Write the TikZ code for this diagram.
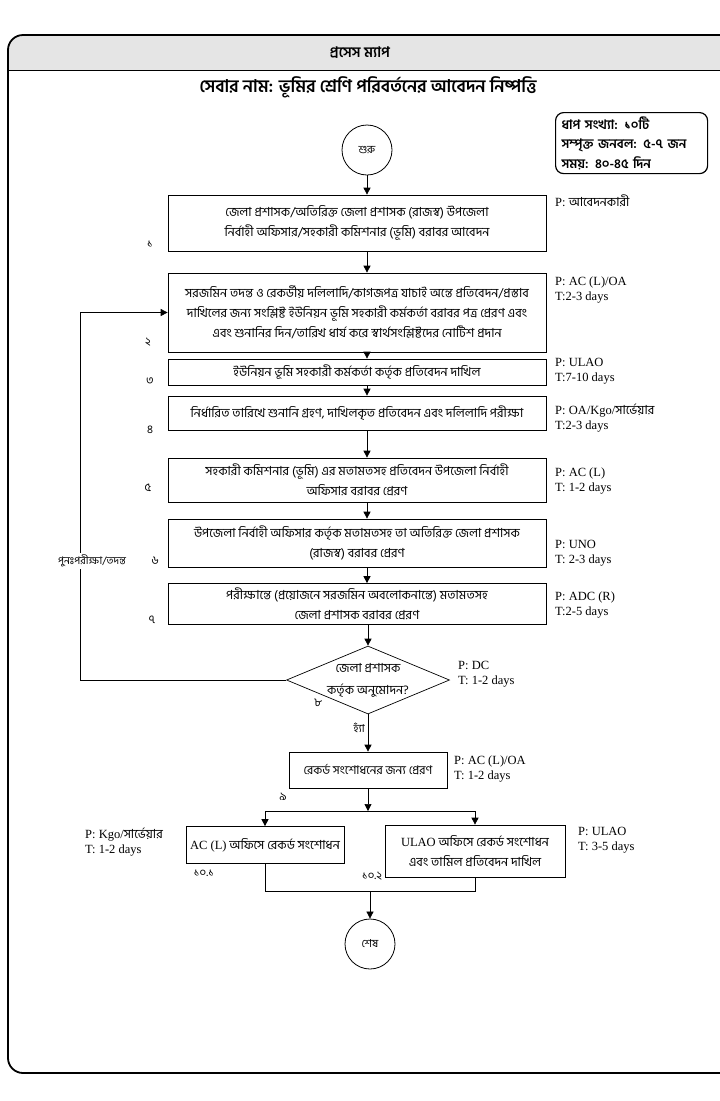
\documentclass[tikz,border=0pt]{standalone}
\usepackage{fontspec}
\setmainfont{Liberation Serif}
\newfontfamily\bn[Script=Bengali]{Hind Siliguri}
\usetikzlibrary{shapes.geometric,arrows.meta}
\begin{document}
\begin{tikzpicture}[x=1pt,y=-1pt,
  box/.style={draw, line width=0.7pt, align=center, inner sep=0pt, font=\bn\fontsize{12.5}{20}\selectfont},
  arr/.style={-{Triangle[length=7pt,width=7pt]}, line width=0.7pt},
  plab/.style={anchor=west, align=left, inner sep=0pt, font=\fontsize{12.5}{15}\selectfont},
  num/.style={font=\bn\fontsize{11.5}{12}\selectfont, inner sep=0pt},
  term/.style={circle, draw, line width=0.8pt, minimum size=50pt, inner sep=0pt, font=\bn\fontsize{11}{12}\selectfont}
]
\useasboundingbox (0,0) rectangle (720,1101);
% frame and header
\begin{scope}
  \clip[rounded corners=15pt] (8,35) rectangle (740,1073);
  \fill[gray!20] (8,35) rectangle (740,70);
\end{scope}
\draw[line width=1pt] (8,70) -- (740,70);
\draw[rounded corners=15pt, line width=1.8pt] (8,35) rectangle (740,1073);
\node[font=\bn\bfseries\fontsize{14.5}{16}\selectfont] (title) at (360,53) {প্রসেস ম্যাপ};
\node[font=\bn\bfseries\fontsize{17.5}{20}\selectfont] (sub) at (368,87) {সেবার নাম: ভূমির শ্রেণি পরিবর্তনের আবেদন নিষ্পত্তি};
\node[draw, rounded corners=8pt, line width=1.2pt, align=left, anchor=north west,
      font=\bn\bfseries\fontsize{13}{19.5}\selectfont, text width=140pt, inner xsep=6pt,
      minimum height=61pt] (info) at (555,112) {ধাপ সংখ্যা: ১০টি\\সম্পৃক্ত জনবল: ৫-৭ জন\\সময়: ৪০-৪৫ দিন};

% nodes
\node[term] (start) at (367,150) {শুরু};
\node[box, minimum width=378pt, minimum height=56pt] (b1) at (357,223) {জেলা প্রশাসক/অতিরিক্ত জেলা প্রশাসক (রাজস্ব) উপজেলা\\নির্বাহী অফিসার/সহকারী কমিশনার (ভূমি) বরাবর আবেদন};
\node[box, minimum width=378pt, minimum height=79pt] (b2) at (357,312.5) {সরজমিন তদন্ত ও রেকর্ডীয় দলিলাদি/কাগজপত্র যাচাই অন্তে প্রতিবেদন/প্রস্তাব\\দাখিলের জন্য সংশ্লিষ্ট ইউনিয়ন ভূমি সহকারী কর্মকর্তা বরাবর পত্র প্রেরণ এবং\\এবং শুনানির দিন/তারিখ ধার্য করে স্বার্থসংশ্লিষ্টদের নোটিশ প্রদান};
\node[box, minimum width=378pt, minimum height=26pt] (b3) at (357,372) {ইউনিয়ন ভূমি সহকারী কর্মকর্তা কর্তৃক প্রতিবেদন দাখিল};
\node[box, minimum width=378pt, minimum height=34pt] (b4) at (357,413) {নির্ধারিত তারিখে শুনানি গ্রহণ, দাখিলকৃত প্রতিবেদন এবং দলিলাদি পরীক্ষা};
\node[box, minimum width=378pt, minimum height=44pt] (b5) at (357,480) {সহকারী কমিশনার (ভূমি) এর মতামতসহ প্রতিবেদন উপজেলা নির্বাহী\\অফিসার বরাবর প্রেরণ};
\node[box, minimum width=378pt, minimum height=48pt] (b6) at (357,543) {উপজেলা নির্বাহী অফিসার কর্তৃক মতামতসহ তা অতিরিক্ত জেলা প্রশাসক\\(রাজস্ব) বরাবর প্রেরণ};
\node[box, minimum width=378pt, minimum height=41pt] (b7) at (357,604) {পরীক্ষান্তে (প্রয়োজনে সরজমিন অবলোকনান্তে) মতামতসহ\\জেলা প্রশাসক বরাবর প্রেরণ};
\node[diamond, draw, line width=0.7pt, minimum width=163pt, minimum height=68pt, inner sep=-30pt,
      align=center, font=\bn\fontsize{12.5}{22}\selectfont] (dia) at (368,680) {জেলা প্রশাসক\\কর্তৃক অনুমোদন?};
\node[box, minimum width=158pt, minimum height=36pt, font=\bn\fontsize{12}{20}\selectfont] (b9) at (368,770) {রেকর্ড সংশোধনের জন্য প্রেরণ};
\node[box, minimum width=158pt, minimum height=37pt] (b101) at (265,845) {{\rmfamily AC (L)} অফিসে রেকর্ড সংশোধন};
\node[box, minimum width=180pt, minimum height=52pt] (b102) at (475,851) {{\rmfamily ULAO} অফিসে রেকর্ড সংশোধন\\এবং তামিল প্রতিবেদন দাখিল};
\node[term] (end) at (370,944) {শেষ};

% connectors
\draw[arr] (start.south) -- (start.south |- b1.north);
\draw[arr] (b1.south -| start) -- (b2.north -| start);
\draw[arr] (b2.south -| start) -- (b3.north -| start);
\draw[arr] (b3.south -| start) -- (b4.north -| start);
\draw[arr] (b4.south -| start) -- (b5.north -| start);
\draw[arr] (b5.south -| start) -- (b6.north -| start);
\draw[arr] (b6.south -| start) -- (b7.north -| start);
\draw[arr] (b7.south -| dia) -- (dia.north);
\draw[arr] (dia.south) -- (b9.north);
\coordinate (lp) at (80,0);
\draw[arr] (dia.west) -| (lp |- b2.west) -- (b2.west);
\node[fill=white, inner sep=2pt, font=\bn\fontsize{10.5}{12}\selectfont] (relab) at (92,561) {পুনঃপরীক্ষা/তদন্ত};
\node[anchor=east, inner sep=0pt, font=\bn\fontsize{11}{12}\selectfont] (yes) at (365,728) {হ্যাঁ};
\coordinate (j) at (368,811);
\draw[arr] (b9.south) -- (j);
\draw[arr] (j) -| (b101.north);
\draw[arr] (j) -| (b102.north);
\coordinate (m) at (370,891);
\draw[line width=0.7pt] (b101.south) |- (m);
\draw[line width=0.7pt] (b102.south) |- (m);
\draw[arr] (m) -- (end.north);

% P/T labels
\node[plab] (p1) at (555,201) {P: {\bn আবেদনকারী}};
\node[plab] (p2) at (555,290) {P: AC (L)/OA\\T:2-3 days};
\node[plab] (p3) at (555,371) {P: ULAO\\T:7-10 days};
\node[plab] (p4) at (555,418) {P: OA/Kgo/{\bn সার্ভেয়ার}\\T:2-3 days};
\node[plab] (p5) at (555,481) {P: AC (L)\\T: 1-2 days};
\node[plab] (p6) at (555,553) {P: UNO\\T: 2-3 days};
\node[plab] (p7) at (555,605) {P: ADC (R)\\T:2-5 days};
\node[plab] (p8) at (458,674) {P: DC\\T: 1-2 days};
\node[plab] (p9) at (454,769) {P: AC (L)/OA\\T: 1-2 days};
\node[plab] (p101) at (85,842) {P: Kgo/{\bn সার্ভেয়ার}\\T: 1-2 days};
\node[plab] (p102) at (578,840) {P: ULAO\\T: 3-5 days};

% step numbers
\node[num] (n1) at (150,244) {১};
\node[num] (n2) at (148,342) {২};
\node[num] (n3) at (150,381) {৩};
\node[num] (n4) at (150,430) {৪};
\node[num] (n5) at (148,488) {৫};
\node[num] (n6) at (155,561) {৬};
\node[num] (n7) at (152,620) {৭};
\node[num] (n8) at (318,703) {৮};
\node[num] (n9) at (283,797) {৯};
\node[num] (n101) at (204,873) {১০.১};
\node[num] (n102) at (372,876) {১০.২};
\end{tikzpicture}
\end{document}
